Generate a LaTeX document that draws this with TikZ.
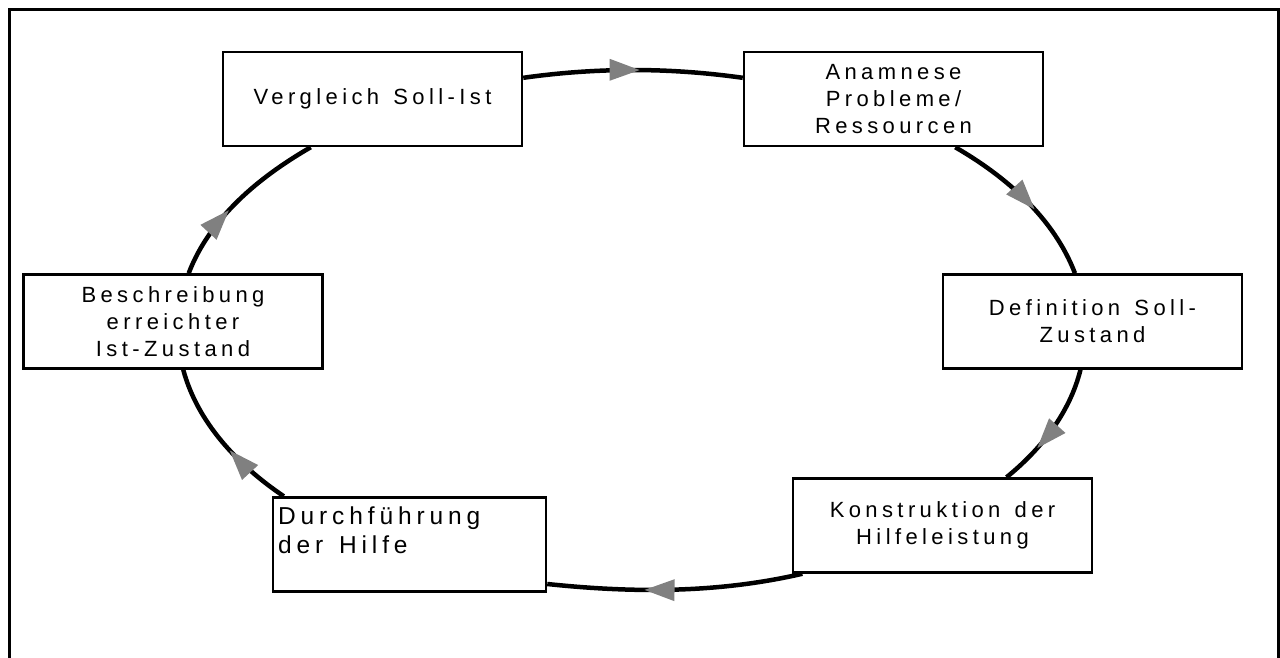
\documentclass[tikz,border=0pt]{standalone}
\usepackage{fontspec}
\setmainfont{Liberation Sans}[LetterSpace=20,WordSpace=1.35]
\usetikzlibrary{arrows.meta,decorations.markings}
\definecolor{tipgray}{RGB}{128,128,128}

\begin{document}
\begin{tikzpicture}[x=1pt,y=1pt,
        stepbox/.style={draw, line width=2.5pt, fill=white, minimum width=299pt,
            minimum height=94pt, inner sep=0pt, align=center,
            font=\fontsize{22}{27}\selectfont},
        loopline/.style={line width=4.5pt, looseness=0.87,
            postaction={decorate, decoration={markings, mark=at position #1 with
                {\arrow{Triangle[length=30pt,width=22pt,color=tipgray,line width=0pt]}}}}},
        frame/.style={line width=3pt}]
                        \useasboundingbox (0,0) rectangle (1280,658);
                        \draw[frame] (9,0) -- (9,648) -- (1278,648) -- (1278,0);

                        \node[stepbox] (verg) at (372.5,559) {Vergleich Soll-Ist};
                        \node[stepbox] (anam) at (893.5,559) {Anamnese\\Probleme/\\Ressourcen};
                        \node[stepbox] (def) at (1092.5,336.5) {Definition Soll-\\Zustand};
                        \node[stepbox] (konst) at (942.5,132.5) {Konstruktion der\\Hilfeleistung};
                        \node[stepbox, minimum width=273pt, text width=263pt, align=left,
                            font=\fontsize{24.5}{29}\selectfont] (durch) at (409.5,113.5)
                            {\spaceskip=0pt Durchführung\\der Hilfe\\\mbox{}};
                        \node[stepbox] (besch) at (173,336.5) {Beschreibung\\erreichter\\Ist-Zustand};

                        \draw[loopline=0.53] (verg.8) to[out=8,in=172] (anam.172);
                        \draw[loopline=0.57] (anam.-38) to[out=-30,in=111] (def.110);
                        \draw[loopline=0.68] (def.-104) to[out=-104,in=39] (konst.37);
                        \draw[loopline=0.62] (konst.199) to[out=193,in=-6] (durch.-16);
                        \draw[loopline=0.43] (durch.159) to[out=146,in=-75] (besch.-78);
                        \draw[loopline=0.42] (besch.72) to[out=69,in=210] (verg.218);
                    \end{tikzpicture}
\end{document}
